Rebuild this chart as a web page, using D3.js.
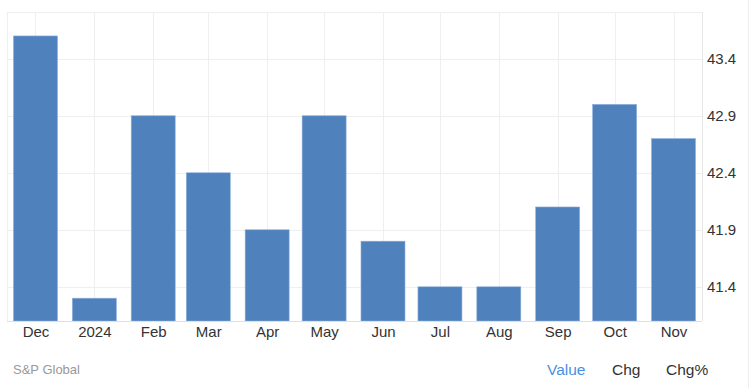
<!DOCTYPE html>
<html>
<head>
<meta charset="utf-8">
<script src="https://cdn.jsdelivr.net/npm/d3@7"></script>
<style>
  html, body { margin: 0; padding: 0; background: #fff; }
  svg { display: block; font-family: "Liberation Sans", Arial, sans-serif; }
</style>
</head>
<body>
<svg id="chart" width="750" height="388"></svg>
<script>
const months = ["2023-12-01","2024-01-01","2024-02-01","2024-03-01","2024-04-01","2024-05-01",
                "2024-06-01","2024-07-01","2024-08-01","2024-09-01","2024-10-01","2024-11-01"];
const monthLabels = ["Dec","2024","Feb","Mar","Apr","May","Jun","Jul","Aug","Sep","Oct","Nov"];
const values = [43.6, 41.3, 42.9, 42.4, 41.9, 42.9, 41.8, 41.4, 41.4, 42.1, 43.0, 42.7];
const yTicks = [41.4, 41.9, 42.4, 42.9, 43.4];
const footerTabs = ["Value", "Chg", "Chg%"];
const sourceLabel = "S&P Global";

(function () {
const parse = d3.timeParse("%Y-%m-%d");
const dates = months.map(parse);

const svg = d3.select("#chart");
const pL = 7, pR = 702, pT = 12, pB = 321;

const x = d3.scaleTime()
  .domain([new Date(2023, 10, 16), new Date(2024, 10, 16)])
  .range([pL, pR]);
const y = d3.scaleLinear().domain([41.1, 43.81]).range([pB, pT]);

const barW = 44;

// grid
const grid = svg.append("g");
grid.selectAll("line.h").data(yTicks).join("line")
  .attr("x1", pL).attr("x2", pR)
  .attr("y1", d => Math.round(y(d)) + 0.5).attr("y2", d => Math.round(y(d)) + 0.5)
  .attr("stroke", "#efefef").attr("stroke-width", 1);
grid.append("line").attr("x1", pL).attr("x2", pR)
  .attr("y1", pT + 0.5).attr("y2", pT + 0.5).attr("stroke", "#efefef");
grid.selectAll("line.v").data(dates).join("line")
  .attr("x1", d => Math.round(x(d)) + 0.5).attr("x2", d => Math.round(x(d)) + 0.5)
  .attr("y1", pT).attr("y2", pB)
  .attr("stroke", "#efefef");
grid.append("line").attr("x1", pL + 0.5).attr("x2", pL + 0.5)
  .attr("y1", pT).attr("y2", pB).attr("stroke", "#efefef");
grid.append("line").attr("x1", pR + 0.5).attr("x2", pR + 0.5)
  .attr("y1", pT).attr("y2", pB).attr("stroke", "#e6e6e6");
// container edge
svg.append("line").attr("x1", 748.5).attr("x2", 748.5)
  .attr("y1", 0).attr("y2", 388).attr("stroke", "#eeeeee");

// bars
svg.append("g").selectAll("rect").data(values).join("rect")
  .attr("x", (d, i) => x(dates[i]) - barW / 2)
  .attr("width", barW)
  .attr("y", d => y(d))
  .attr("height", d => pB - y(d))
  .attr("fill", "#4f81bd")
  .attr("stroke", "#8fb0dc")
  .attr("stroke-width", 0.6);

// baseline
svg.append("line").attr("x1", pL).attr("x2", pR)
  .attr("y1", pB + 0.5).attr("y2", pB + 0.5).attr("stroke", "#e0e0e0");

// y axis (right)
const yAxis = d3.axisRight(y).tickValues(yTicks).tickSize(0).tickPadding(0)
  .tickFormat(d3.format(".1f"));
const ya = svg.append("g").attr("transform", `translate(${pR + 5},0)`).call(yAxis);
ya.select(".domain").remove();
ya.selectAll("text").attr("fill", "#333").attr("font-size", 15)
  .attr("font-family", "Liberation Sans, Arial, sans-serif");

// x axis
const xAxis = d3.axisBottom(x).tickValues(dates).tickSize(0).tickPadding(0)
  .tickFormat((d, i) => monthLabels[i]);
const xa = svg.append("g").attr("transform", `translate(0,${pB + 5})`).call(xAxis);
xa.select(".domain").remove();
xa.selectAll("text").attr("fill", "#333").attr("font-size", 15)
  .attr("font-family", "Liberation Sans, Arial, sans-serif")
  .attr("dy", "0.71em");

// footer
svg.append("text").attr("x", 13).attr("y", 374).text(sourceLabel)
  .attr("fill", "#999").attr("font-size", 13);
const tabX = [547, 612, 666];
svg.append("g").selectAll("text").data(footerTabs).join("text")
  .attr("x", (d, i) => tabX[i]).attr("y", 375)
  .text(d => d)
  .attr("fill", (d, i) => i === 0 ? "#4a90e2" : "#333")
  .attr("font-size", 15.5);
})();
</script>
</body>
</html>
